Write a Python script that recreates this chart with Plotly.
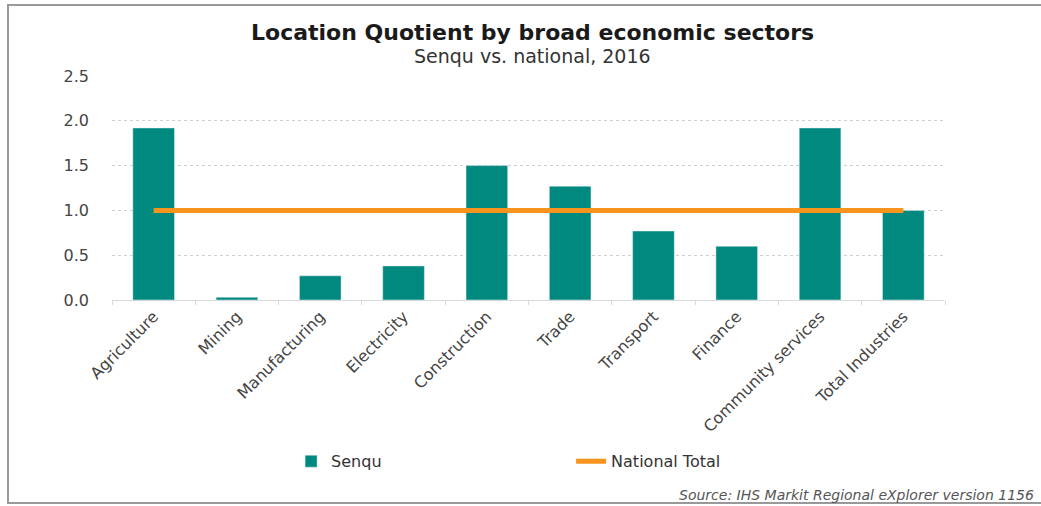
import plotly.graph_objects as go

categories = ["Agriculture", "Mining", "Manufacturing", "Electricity", "Construction",
              "Trade", "Transport", "Finance", "Community services", "Total Industries"]
senqu = [1.92, 0.03, 0.27, 0.38, 1.50, 1.27, 0.77, 0.60, 1.92, 1.00]
national_total = [1.0] * len(categories)

teal = "#00897E"
orange = "#F7941D"
font_family = "DejaVu Sans, Verdana, sans-serif"

fig = go.Figure()
fig.add_trace(go.Bar(x=categories, y=senqu, name="Senqu", marker_color=teal,
                     width=0.5))
fig.add_trace(go.Scatter(x=categories, y=national_total, name="National Total",
                         mode="lines", line=dict(color=orange, width=5)))

fig.update_layout(
    width=1041, height=506,
    margin=dict(l=112, r=96, t=76, b=206),
    paper_bgcolor="white", plot_bgcolor="white",
    font=dict(family=font_family, color="#333333", size=15),
    showlegend=True,
    legend=dict(orientation="h", x=0.215, xanchor="left", y=-0.72, yanchor="middle",
                font=dict(size=16, color="#333333"), entrywidth=235,
                bgcolor="rgba(0,0,0,0)"),
    bargap=0.5,
)
fig.update_xaxes(
    type="category", tickangle=-45, tickfont=dict(size=16, color="#444444"),
    showgrid=False, showline=True, linecolor="#d9d9d9", linewidth=1,
    ticks="outside", tickson="boundaries", ticklen=4, tickcolor="#d9d9d9",
)
fig.update_yaxes(
    range=[0, 2.5], dtick=0.5, tickformat=".1f",
    tickfont=dict(size=16, color="#444444"),
    showgrid=True, gridcolor="#cfcfcf", gridwidth=1, griddash="dot",
    zeroline=False, ticks="", ticklabelstandoff=22,
)

fig.add_annotation(text="<b>Location Quotient by broad economic sectors</b>",
                   xref="paper", yref="paper", x=0.505, y=(300 - 32) / 224, xanchor="center",
                   yanchor="middle", showarrow=False,
                   font=dict(size=22, color="#1a1a1a", family=font_family))
fig.add_annotation(text="Senqu vs. national, 2016",
                   xref="paper", yref="paper", x=0.505, y=(300 - 56) / 224, xanchor="center",
                   yanchor="middle", showarrow=False,
                   font=dict(size=19, color="#333333", family=font_family))
fig.add_annotation(text="<i>Source: IHS Markit Regional eXplorer version 1156</i>",
                   xref="paper", yref="paper", x=(1036 - 112) / 833, y=(300 - 495) / 224,
                   xanchor="right", yanchor="middle", showarrow=False,
                   font=dict(size=14, color="#555555", family=font_family))

fig.add_shape(type="rect", xref="paper", yref="paper",
              x0=(8 - 112) / 833, x1=(1046 - 112) / 833,
              y0=(300 - 503) / 224, y1=(300 - 5) / 224,
              line=dict(color="#999999", width=2), fillcolor="rgba(0,0,0,0)", layer="below")

fig.write_html("out.html")
